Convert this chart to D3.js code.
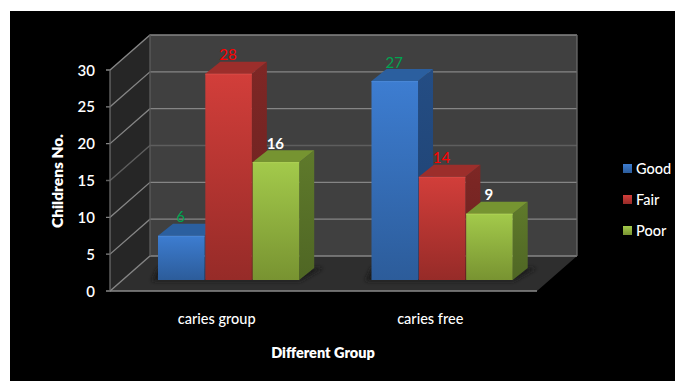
<!DOCTYPE html>
<html>
<head>
<meta charset="utf-8">
<script src="https://cdn.jsdelivr.net/npm/d3@7/dist/d3.min.js"></script>
<style>
html,body{margin:0;padding:0;background:#fff;}
svg{display:block;}
text{font-family:Lato,"Open Sans",sans-serif;}
</style>
</head>
<body>
<svg id="chart" width="675" height="381"></svg>
<script>
// Chart data
const categories = ["caries group", "caries free"];
const seriesNames = ["Good", "Fair", "Poor"];
const goodValues = [6, 27];
const fairValues = [28, 14];
const poorValues = [16, 9];
const yTicks = [0, 5, 10, 15, 20, 25, 30];
const xTitle = "Different Group";
const yTitle = "Childrens No.";

const seriesValues = [goodValues, fairValues, poorValues];
const palette = [
  {light:"#3d7dd1", dark:"#2c5c9a", top:"#2b5f9f", side:"#244d84", edge:"#4a88d8"},
  {light:"#d23e3a", dark:"#962b28", top:"#9c2e2b", side:"#7e2725", edge:"#da4a45"},
  {light:"#a3ca4b", dark:"#789331", top:"#769431", side:"#5f7a2b", edge:"#aed255"}
];
const labelColors = ["#00a651", "#ff0000", "#ffffff"];

const svg = d3.select("#chart");
const defs = svg.append("defs");

// Oblique projection used for the 3D box
const depth = {x:40, y:-35};
const barDepth = {x:15, y:-12};
const barLift = 11;
const y = d3.scaleLinear().domain([0, 30]).range([291, 70]);
const x = d3.scaleBand().domain(categories).range([110, 537]);
const inner = d3.scaleBand().domain(seriesNames).range([48, 190]);
const poly = pts => pts.map(p => p.join(",")).join(" ");

// Page background
svg.append("rect").attr("x", 10).attr("y", 11).attr("width", 665).attr("height", 370).attr("fill", "#000");

const x0 = x.range()[0], x1 = x.range()[1];
const yBase = y(0), yTop = y(30);

// Back wall, side wall and floor
svg.append("polygon").attr("fill", "#404040")
  .attr("points", poly([[x0+depth.x,yTop+depth.y],[x1+depth.x,yTop+depth.y],[x1+depth.x,yBase+depth.y],[x0+depth.x,yBase+depth.y]]));
svg.append("polygon").attr("fill", "#262626")
  .attr("points", poly([[x0,yTop],[x0+depth.x,yTop+depth.y],[x0+depth.x,yBase+depth.y],[x0,yBase]]));
svg.append("polygon").attr("fill", "#2e2e2e")
  .attr("points", poly([[x0,yBase],[x0+depth.x,yBase+depth.y],[x1+depth.x,yBase+depth.y],[x1,yBase]]));

// Gridlines on the walls
const grid = svg.append("g").attr("fill", "none").attr("stroke", "#858585").attr("stroke-width", 1.3);
yTicks.forEach(t => {
  grid.append("polyline").attr("points", poly([
    [x0-4,y(t)],[x0,y(t)],[x0+depth.x,y(t)+depth.y],[x1+depth.x,y(t)+depth.y]
  ])).attr("stroke", t === 15 ? "#5e5e5e" : "#858585");
});
grid.append("line").attr("x1",x0).attr("x2",x0).attr("y1",yTop).attr("y2",yBase).attr("stroke","#6a6a6a");
grid.append("line").attr("x1",x0+depth.x).attr("x2",x0+depth.x).attr("y1",yTop+depth.y).attr("y2",yBase+depth.y).attr("stroke","#5c5c5c");
grid.append("line").attr("x1",x1+depth.x).attr("x2",x1+depth.x).attr("y1",yTop+depth.y).attr("y2",yBase+depth.y).attr("stroke","#6a6a6a");
grid.append("line").attr("x1",x0).attr("x2",x1).attr("y1",yBase).attr("y2",yBase).attr("stroke","#8a8a8a").attr("stroke-width",1.5);

// Soft shadow under the bars
defs.append("filter").attr("id","soft").attr("x","-20%").attr("y","-50%").attr("width","140%").attr("height","200%")
  .append("feGaussianBlur").attr("stdDeviation",2);

palette.forEach((c, i) => {
  const g = defs.append("linearGradient").attr("id","face"+i).attr("x1",0).attr("y1",0).attr("x2",0).attr("y2",1);
  g.append("stop").attr("offset",0).attr("stop-color",c.light);
  g.append("stop").attr("offset",1).attr("stop-color",c.dark);
  const s = defs.append("linearGradient").attr("id","side"+i).attr("x1",0).attr("y1",0).attr("x2",0).attr("y2",1);
  s.append("stop").attr("offset",0).attr("stop-color",c.side);
  s.append("stop").attr("offset",1).attr("stop-color",d3.color(c.side).darker(0.5).formatHex());
});

categories.forEach((cat, ci) => {
  const gx = x(cat);
  const left = gx + inner(seriesNames[0]);
  const right = gx + inner(seriesNames[2]) + inner.bandwidth();
  const fy = yBase - barLift;
  svg.append("polygon").attr("fill","#1a1a1a").attr("filter","url(#soft)")
    .attr("points", poly([[left-6,fy+1],[right,fy+1],[right+barDepth.x+8,fy+barDepth.y],[left,fy+barDepth.y]]));

  seriesNames.forEach((name, si) => {
    const v = seriesValues[si][ci];
    const bx = gx + inner(name);
    const bw = inner.bandwidth() - 0.8;
    const ty = y(v) - barLift;
    const d = barDepth;
    const bar = svg.append("g");
    bar.append("polygon").attr("fill",`url(#side${si})`)
      .attr("points", poly([[bx+bw,ty],[bx+bw+d.x,ty+d.y],[bx+bw+d.x,fy+d.y],[bx+bw,fy]]));
    bar.append("polygon").attr("fill",palette[si].top)
      .attr("points", poly([[bx,ty],[bx+d.x,ty+d.y],[bx+bw+d.x,ty+d.y],[bx+bw,ty]]));
    bar.append("rect").attr("x",bx).attr("y",ty).attr("width",bw).attr("height",fy-ty)
      .attr("fill",`url(#face${si})`);
    bar.append("line").attr("x1",bx).attr("x2",bx+bw).attr("y1",ty+0.5).attr("y2",ty+0.5)
      .attr("stroke",palette[si].edge).attr("stroke-width",1);
  });
});

// Value labels are drawn last so no bar covers them
categories.forEach((cat, ci) => {
  seriesNames.forEach((name, si) => {
    const v = seriesValues[si][ci];
    svg.append("text")
      .attr("x", x(cat) + inner(name) + inner.bandwidth()/2 - 1)
      .attr("y", y(v) - barLift + barDepth.y - 1.5)
      .attr("text-anchor","middle")
      .attr("font-size",15)
      .attr("font-weight", si === 2 ? 700 : 400)
      .attr("fill",labelColors[si])
      .text(v);
  });
});

// Y axis labels
svg.append("g").selectAll("text").data(yTicks).join("text")
  .attr("x",95).attr("y",d => y(d)+5.5).attr("text-anchor","end")
  .attr("font-size",15).attr("font-weight",600).attr("fill","#fff").text(d => d);

// Category labels
svg.append("g").selectAll("text").data(categories).join("text")
  .attr("x",d => x(d)+x.bandwidth()/2).attr("y",324).attr("text-anchor","middle")
  .attr("font-size",14.5).attr("font-weight",500).attr("fill","#fff").text(d => d);

// Axis titles
svg.append("text").attr("x",323).attr("y",358).attr("text-anchor","middle")
  .attr("font-size",14.5).attr("font-weight",800).attr("fill","#fff").text(xTitle);
svg.append("text").attr("transform","translate(63,181) rotate(-90)").attr("text-anchor","middle")
  .attr("font-size",15.5).attr("font-weight",800).attr("fill","#fff").text(yTitle);

// Legend
const legendY = d3.scaleBand().domain(seriesNames).range([153,246]);
const legend = svg.append("g").selectAll("g").data(seriesNames).join("g")
  .attr("transform",d => `translate(623,${legendY(d)+legendY.bandwidth()/2})`);
legend.append("rect").attr("x",0).attr("y",-4.5).attr("width",9).attr("height",9)
  .attr("fill",(d,i) => `url(#face${i})`);
legend.append("text").attr("x",13).attr("y",5).attr("font-size",14.5).attr("font-weight",500)
  .attr("fill","#fff").text(d => d);
</script>
</body>
</html>
